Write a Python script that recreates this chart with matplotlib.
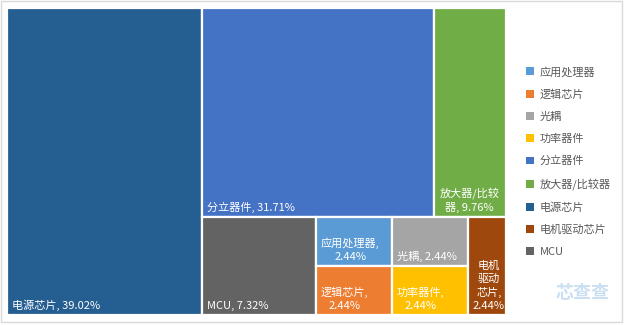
import matplotlib
matplotlib.use("Agg")
import matplotlib.pyplot as plt
from matplotlib.patches import Rectangle, Patch
from matplotlib.font_manager import FontProperties

plt.rcParams['font.family'] = ['Noto Sans CJK SC', 'DejaVu Sans']

# source order (legend order)
categories = ['应用处理器', '逻辑芯片', '光耦', '功率器件', '分立器件',
              '放大器/比较器', '电源芯片', '电机驱动芯片', 'MCU']
shares = [2.44, 2.44, 2.44, 2.44, 31.71, 9.76, 39.02, 2.44, 7.32]
colors = ['#5B9BD5', '#ED7D31', '#A5A5A5', '#FFC000', '#4472C4',
          '#70AD47', '#255E91', '#9E480E', '#636363']


def first_ratio(row, scale, side):
    thick = sum(v for _, v in row) * scale / side
    length = row[0][1] * scale / thick
    return max(thick / length, length / thick)


def treemap(items, x, y, w, h):
    # strip layout: grow a strip while the first cell gets squarer
    rects = []
    items = list(items)
    while items:
        total = sum(v for _, v in items)
        scale = w * h / total
        vertical = w >= h
        side = h if vertical else w
        row = [items[0]]
        best = first_ratio(row, scale, side)
        for it in items[1:]:
            r = first_ratio(row + [it], scale, side)
            if r <= best:
                row.append(it)
                best = r
            else:
                break
        items = items[len(row):]
        thick = sum(v for _, v in row) * scale / side
        pos = 0
        for idx, v in row:
            length = v * scale / thick
            if vertical:
                rects.append((idx, x, y + pos, thick, length))
            else:
                rects.append((idx, x + pos, y, length, thick))
            pos += length
        if vertical:
            x += thick
            w -= thick
        else:
            y += thick
            h -= thick
    return rects


def wrap(text, maxw, measure):
    # tokens: CJK chars one by one, ascii runs together, punctuation sticks
    tokens = []
    for ch in text:
        if ch == ' ':
            tokens.append(' ')
        elif ch in ',/%' and tokens and tokens[-1] != ' ':
            tokens[-1] += ch
        elif ord(ch) < 128 and tokens and tokens[-1] != ' ' and ord(tokens[-1][-1]) < 128:
            tokens[-1] += ch
        else:
            tokens.append(ch)
    lines = ['']
    for t in tokens:
        trial = lines[-1] + t
        if lines[-1].strip() and measure(trial.rstrip()) > maxw:
            lines.append(t.lstrip())
        else:
            lines[-1] = trial
    return '\n'.join(l.strip() for l in lines)


W, H = 624, 325
fig = plt.figure(figsize=(W / 100, H / 100), dpi=100)
fig.patches.append(Rectangle((1 / W, 3 / H), 621 / W, 321 / H, transform=fig.transFigure,
                             facecolor='white', edgecolor='#D9D9D9', linewidth=1, zorder=-1))

left, top, right, bottom = 7, 8, 506, 315
ax = fig.add_axes([left / W, 1 - bottom / H, (right - left) / W, (bottom - top) / H])
aw, ah = right - left, bottom - top
ax.set_xlim(0, aw)
ax.set_ylim(ah, 0)
ax.axis('off')

order = sorted(range(len(shares)), key=lambda i: -shares[i])
rects = treemap([(i, shares[i]) for i in order], 0, 0, aw, ah)

renderer = fig.canvas.get_renderer()
fs = 8
prop = FontProperties(family=['Noto Sans CJK SC', 'DejaVu Sans'], size=fs)


def measure(s):
    wd, _, _ = renderer.get_text_width_height_descent(s, prop, ismath=False)
    return wd


pad = 4
for idx, x, y, w, h in rects:
    ax.add_patch(Rectangle((x, y), w, h, facecolor=colors[idx], edgecolor='white',
                           linewidth=1.6))
    label = wrap(f'{categories[idx]}, {shares[idx]:.2f}%', w - 2 * pad - 1, measure)
    ax.text(x + pad + 1, y + h - pad, label, color='white', fontsize=fs,
            ha='left', va='bottom', multialignment='center', linespacing=1.35)

handles = [Patch(facecolor=c, edgecolor='none') for c in colors]
fig.legend(handles, categories, loc='upper left', bbox_to_anchor=(522 / W, 1 - 62 / H),
           frameon=False, fontsize=fs, labelcolor='#595959', handlelength=0.7,
           handleheight=0.7, handletextpad=0.5, labelspacing=1.08, borderaxespad=0)

fig.text(556 / W, 1 - 293 / H, '芯查查', fontsize=13, fontweight='bold',
         color='#BDD7EE', ha='left', va='center', alpha=0.8)

fig.savefig('out.png', dpi=100)
